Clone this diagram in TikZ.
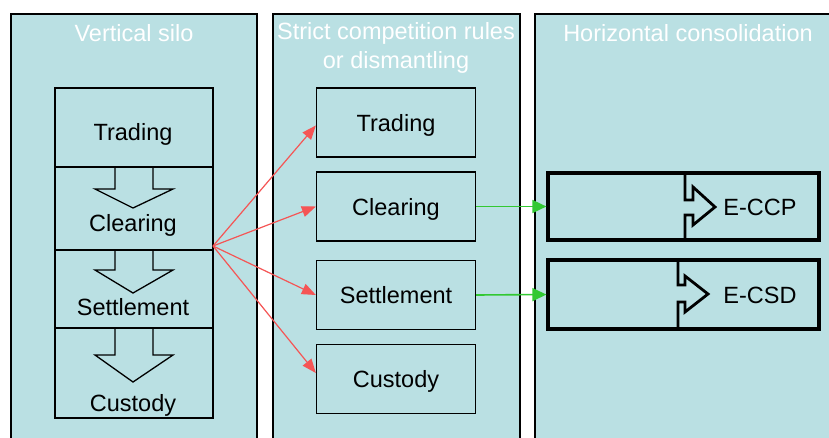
\documentclass[tikz,border=0pt]{standalone}
\usepackage{fontspec}
\setmainfont{Liberation Sans}
\usetikzlibrary{arrows.meta}
\definecolor{panelfill}{RGB}{186,224,227}
\definecolor{redarr}{RGB}{245,85,85}
\definecolor{greenarr}{RGB}{50,200,50}
\tikzset{
  panel/.style={draw=black, line width=1.5pt, fill=panelfill},
  title/.style={text=white, font=\fontsize{23.5}{29}\selectfont, align=center, inner sep=0pt},
  lbl/.style={text=black, font=\fontsize{23.5}{28}\selectfont, inner sep=0pt, text depth=0pt},
  midbox/.style={draw=black, line width=1.3pt, minimum width=159pt, minimum height=69pt, inner sep=0pt, text depth=0pt, font=\fontsize{23.5}{28}\selectfont},
  ebox/.style={draw=black, line width=3.2pt, minimum width=271pt, inner sep=0pt},
  silo/.style={draw=black, line width=1.3pt, line join=miter},
  notch/.style={draw=black, line width=2.8pt, line join=miter},
  redline/.style={draw=redarr, line width=1.2pt, -{Triangle[length=14pt,width=11pt]}},
  greenline/.style={draw=greenarr, line width=1.6pt, -{Triangle[length=14pt,width=13pt]}},
}
\begin{document}
\begin{tikzpicture}[x=1pt,y=-1pt]
\useasboundingbox (0,0) rectangle (829,437);
\fill[white] (0,0) rectangle (829,437);
% panels
\draw[panel] (11,14) rectangle (257,450);
\draw[panel] (273,14) rectangle (520,450);
\draw[panel] (535,14) rectangle (845,450);
\node[title] (t1) at (134,33) {Vertical silo};
\node[title, anchor=north] (t2) at (396,22) {Strict competition rules\\or dismantling};
\node[title] (t3) at (688,33) {Horizontal consolidation};
% vertical silo
\draw[silo] (55,88) rectangle (213,418);
\draw[silo] (55,167) -- (213,167);
\draw[silo] (55,250) -- (213,250);
\draw[silo] (55,328) -- (213,328);
\draw[silo] (115,167) -- (115,189) -- (95,189) -- (133,208) -- (173,189) -- (153,189) -- (153,167);
\draw[silo] (115,250) -- (115,270) -- (95,270) -- (133,293) -- (173,270) -- (153,270) -- (153,250);
\draw[silo] (115,328) -- (115,355) -- (95,355) -- (133,382) -- (173,355) -- (153,355) -- (153,328);
\node[lbl] (sTrd) at (133,132) {Trading};
\node[lbl] (sClr) at (133,223) {Clearing};
\node[lbl] (sSet) at (133,307) {Settlement};
\node[lbl] (sCus) at (133,403) {Custody};
\coordinate (fan) at (213,246);
% middle boxes
\node[midbox] (mTrd) at (396,122.5) {Trading};
\node[midbox] (mClr) at (396,206.5) {Clearing};
\node[midbox] (mSet) at (396,295) {Settlement};
\node[midbox] (mCus) at (396,379) {Custody};
\draw[redline] (fan) -- ([yshift=-3pt]mTrd.west);
\draw[redline] (fan) -- (mClr.west);
\draw[redline] (fan) -- (mSet.west);
\draw[redline] (fan) -- ([yshift=6pt]mCus.west);
% horizontal consolidation
\node[ebox, minimum height=67pt] (ccp) at (683.5,206.5) {};
\node[ebox, minimum height=69pt] (csd) at (683.5,294.5) {};
\draw[notch] (685,173) -- (685,200) -- (693,200) -- (693,187) -- (715,207) -- (693,225) -- (693,215) -- (685,215) -- (685,240);
\draw[notch] (678,260) -- (678,285) -- (685,285) -- (685,276) -- (708,294) -- (685,312) -- (685,302) -- (678,302) -- (678,329);
\node[lbl] (eccp) at (760,207) {E-CCP};
\node[lbl] (ecsd) at (760,295) {E-CSD};
\draw[greenline] (mClr.east) -- (ccp.west);
\draw[greenline] (mSet.east) -- (csd.west);
\end{tikzpicture}
\end{document}
